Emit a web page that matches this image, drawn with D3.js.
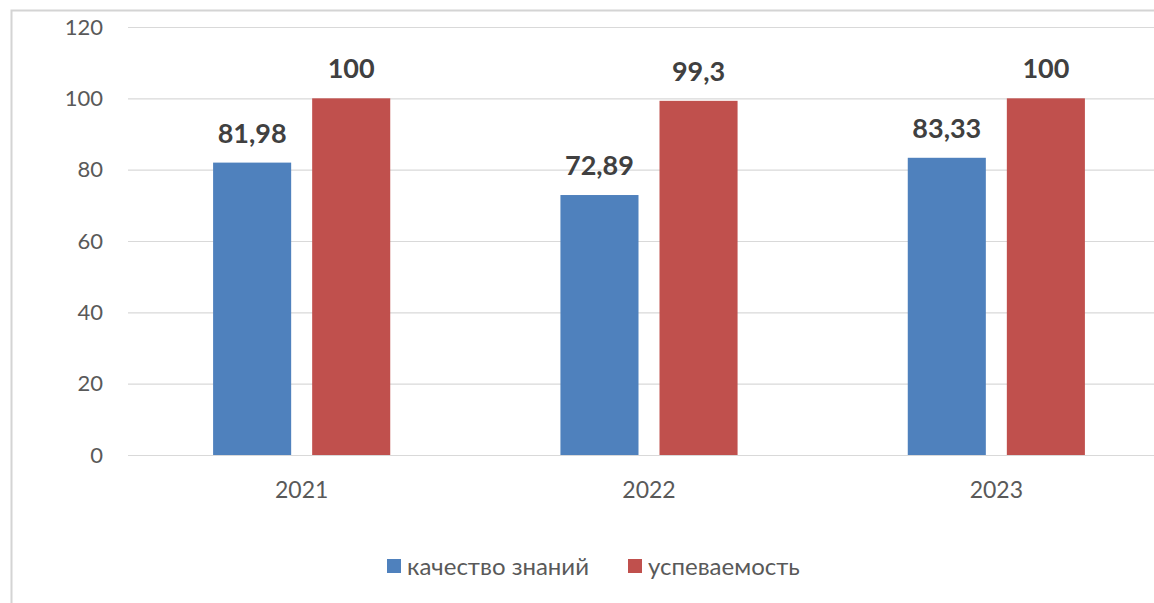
<!DOCTYPE html>
<html><head><meta charset="utf-8">
<script src="https://cdn.jsdelivr.net/npm/d3@7"></script>
<style>html,body{margin:0;padding:0;background:#fff;overflow:hidden}svg{display:block}</style>
</head><body>
<script>
const categories = ["2021", "2022", "2023"];
const seriesNames = ["качество знаний", "успеваемость"];
const quality = [81.98, 72.89, 83.33];
const progress = [100, 99.3, 100];
const valueLabels = [["81,98", "72,89", "83,33"], ["100", "99,3", "100"]];
const yTicks = [0, 20, 40, 60, 80, 100, 120];
const colors = ["#4F81BD", "#C0504D"];

const W = 1154, H = 603;
const font = "Lato, 'Open Sans', sans-serif";
const svg = d3.select("body").append("svg").attr("width", W).attr("height", H);

// frame
svg.append("rect").attr("x", 11.5).attr("y", 10.5).attr("width", W + 20).attr("height", H + 20)
  .attr("fill", "#fff").attr("stroke", "#d4d4d4").attr("stroke-width", 2);

const y = d3.scaleLinear().domain([0, 120]).range([455, 27]);
const x0 = d3.scaleBand().domain(categories).range([128, 1170]).paddingInner(0.49).paddingOuter(0.245);
const x1 = d3.scaleBand().domain([0, 1]).range([0, x0.bandwidth()]).paddingInner(0.212);

// gridlines
const yAxis = d3.axisLeft(y).tickValues(yTicks).tickSize(-(1170 - 128)).tickFormat(d3.format("d"));
const gy = svg.append("g").attr("transform", "translate(128,0)").call(yAxis);
gy.select(".domain").remove();
gy.selectAll(".tick line").attr("stroke", "#d9d9d9").attr("stroke-width", 1.2);
gy.selectAll(".tick text").attr("x", -25).attr("fill", "#595959")
  .style("font-family", font).style("font-size", "22px");

const data = [quality, progress];
categories.forEach((c, i) => {
  data.forEach((s, j) => {
    const v = s[i];
    svg.append("rect")
      .attr("x", x0(c) + x1(j)).attr("y", y(v))
      .attr("width", x1.bandwidth()).attr("height", y(0) - y(v))
      .attr("fill", colors[j]);
    svg.append("text")
      .attr("x", x0(c) + x1(j) + x1.bandwidth() / 2).attr("y", y(v) - 20)
      .attr("text-anchor", "middle").attr("fill", "#404040")
      .style("font-family", font).style("font-size", "27px").style("font-weight", "bold")
      .text(valueLabels[j][i]);
  });
});

// x axis labels
const xAxis = d3.axisBottom(x0).tickSize(0).tickPadding(0);
const gx = svg.append("g").attr("transform", "translate(0,455)").call(xAxis);
gx.select(".domain").remove();
gx.selectAll(".tick text").attr("y", 43).attr("dy", null).attr("fill", "#595959")
  .style("font-family", font).style("font-size", "23px");

// legend
const legendX = [387, 628];
seriesNames.forEach((n, j) => {
  svg.append("rect").attr("x", legendX[j]).attr("y", 559).attr("width", 14).attr("height", 14).attr("fill", colors[j]);
  svg.append("text").attr("x", legendX[j] + 20).attr("y", 575).attr("fill", "#595959")
    .style("font-family", font).style("font-size", "24px").text(n);
});
</script>
</body></html>
